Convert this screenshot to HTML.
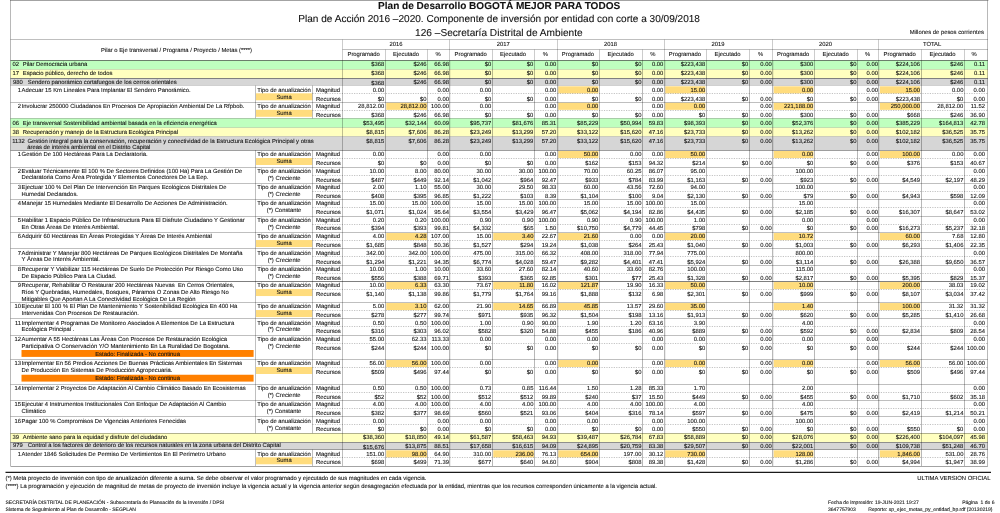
<!DOCTYPE html>
<html lang="es"><head><meta charset="utf-8"><title>Plan de Desarrollo BOGOTÁ MEJOR PARA TODOS</title>
<style>
html,body{margin:0;padding:0;background:#fff;}
body{width:1000px;height:513px;overflow:hidden;}
svg{display:block;will-change:transform;}
svg text{font-family:"Liberation Sans", sans-serif;font-size:5.87px;fill:#111;white-space:pre;text-rendering:geometricPrecision;stroke:#111;stroke-width:0.09px;}
</style></head><body>
<svg width="1000" height="513" viewBox="0 0 1000 513">
<rect x="0" y="0" width="1000" height="513" fill="#fff"/>
<rect x="10.50" y="60.40" width="977.40" height="9.10" fill="#BFFFBF" />
<rect x="10.50" y="69.50" width="977.40" height="8.50" fill="#FFFFBF" />
<rect x="10.50" y="79.00" width="977.40" height="6.30" fill="#D6D6D6" />
<rect x="256.00" y="93.30" width="56.20" height="7.00" fill="#FFDC7D" />
<rect x="558.30" y="86.30" width="40.10" height="7.05" fill="#FFDC7D" />
<rect x="665.30" y="86.30" width="40.00" height="7.05" fill="#FFDC7D" />
<rect x="773.70" y="86.30" width="39.70" height="7.05" fill="#FFDC7D" />
<rect x="879.95" y="86.30" width="40.25" height="7.05" fill="#FFDC7D" />
<rect x="256.00" y="109.80" width="56.20" height="7.00" fill="#FFDC7D" />
<rect x="386.25" y="102.80" width="40.75" height="7.05" fill="#FFDC7D" />
<rect x="558.30" y="102.80" width="40.10" height="7.05" fill="#FFDC7D" />
<rect x="665.30" y="102.80" width="40.00" height="7.05" fill="#FFDC7D" />
<rect x="773.70" y="102.80" width="39.70" height="7.05" fill="#FFDC7D" />
<rect x="879.95" y="102.80" width="40.25" height="7.05" fill="#FFDC7D" />
<rect x="10.50" y="118.30" width="977.40" height="9.40" fill="#BFFFBF" />
<rect x="10.50" y="127.70" width="977.40" height="8.80" fill="#FFFFBF" />
<rect x="10.50" y="136.50" width="977.40" height="13.70" fill="#D6D6D6" />
<rect x="256.00" y="158.00" width="56.20" height="7.00" fill="#FFDC7D" />
<rect x="558.30" y="151.00" width="40.10" height="7.05" fill="#FFDC7D" />
<rect x="665.30" y="151.00" width="40.00" height="7.05" fill="#FFDC7D" />
<rect x="773.70" y="151.00" width="39.70" height="7.05" fill="#FFDC7D" />
<rect x="879.95" y="151.00" width="40.25" height="7.05" fill="#FFDC7D" />
<rect x="256.00" y="240.05" width="56.20" height="7.00" fill="#FFDC7D" />
<rect x="386.25" y="233.05" width="40.75" height="7.05" fill="#FFDC7D" />
<rect x="493.25" y="233.05" width="40.65" height="7.05" fill="#FFDC7D" />
<rect x="558.30" y="233.05" width="40.10" height="7.05" fill="#FFDC7D" />
<rect x="665.30" y="233.05" width="40.00" height="7.05" fill="#FFDC7D" />
<rect x="773.70" y="233.05" width="39.70" height="7.05" fill="#FFDC7D" />
<rect x="879.95" y="233.05" width="40.25" height="7.05" fill="#FFDC7D" />
<rect x="256.00" y="289.05" width="56.20" height="7.00" fill="#FFDC7D" />
<rect x="386.25" y="282.05" width="40.75" height="7.05" fill="#FFDC7D" />
<rect x="493.25" y="282.05" width="40.65" height="7.05" fill="#FFDC7D" />
<rect x="558.30" y="282.05" width="40.10" height="7.05" fill="#FFDC7D" />
<rect x="665.30" y="282.05" width="40.00" height="7.05" fill="#FFDC7D" />
<rect x="773.70" y="282.05" width="39.70" height="7.05" fill="#FFDC7D" />
<rect x="879.95" y="282.05" width="40.25" height="7.05" fill="#FFDC7D" />
<rect x="256.00" y="310.05" width="56.20" height="7.00" fill="#FFDC7D" />
<rect x="386.25" y="303.05" width="40.75" height="7.05" fill="#FFDC7D" />
<rect x="493.25" y="303.05" width="40.65" height="7.05" fill="#FFDC7D" />
<rect x="558.30" y="303.05" width="40.10" height="7.05" fill="#FFDC7D" />
<rect x="665.30" y="303.05" width="40.00" height="7.05" fill="#FFDC7D" />
<rect x="773.70" y="303.05" width="39.70" height="7.05" fill="#FFDC7D" />
<rect x="879.95" y="303.05" width="40.25" height="7.05" fill="#FFDC7D" />
<rect x="21.50" y="350.00" width="232.10" height="6.90" fill="#FF8000" />
<rect x="256.00" y="367.00" width="56.20" height="7.00" fill="#FFDC7D" />
<rect x="386.25" y="360.00" width="40.75" height="7.05" fill="#FFDC7D" />
<rect x="558.30" y="360.00" width="40.10" height="7.05" fill="#FFDC7D" />
<rect x="665.30" y="360.00" width="40.00" height="7.05" fill="#FFDC7D" />
<rect x="773.70" y="360.00" width="39.70" height="7.05" fill="#FFDC7D" />
<rect x="879.95" y="360.00" width="40.25" height="7.05" fill="#FFDC7D" />
<rect x="21.50" y="374.75" width="232.10" height="6.85" fill="#FF8000" />
<rect x="10.50" y="433.20" width="977.40" height="8.90" fill="#FFFFBF" />
<rect x="10.50" y="442.60" width="977.40" height="6.70" fill="#D6D6D6" />
<rect x="256.00" y="457.30" width="56.20" height="7.00" fill="#FFDC7D" />
<rect x="386.25" y="450.30" width="40.75" height="7.05" fill="#FFDC7D" />
<rect x="493.25" y="450.30" width="40.65" height="7.05" fill="#FFDC7D" />
<rect x="558.30" y="450.30" width="40.10" height="7.05" fill="#FFDC7D" />
<rect x="665.30" y="450.30" width="40.00" height="7.05" fill="#FFDC7D" />
<rect x="773.70" y="450.30" width="39.70" height="7.05" fill="#FFDC7D" />
<rect x="879.95" y="450.30" width="40.25" height="7.05" fill="#FFDC7D" />
<line x1="10.00" y1="0.50" x2="988.40" y2="0.50" stroke="rgba(0,0,0,0.36)" stroke-width="1.0"/>
<line x1="10.50" y1="0.30" x2="10.50" y2="466.00" stroke="rgba(0,0,0,0.28)" stroke-width="1.0"/>
<line x1="987.50" y1="0.30" x2="987.50" y2="466.00" stroke="rgba(0,0,0,0.28)" stroke-width="1.0"/>
<line x1="10.50" y1="466.50" x2="987.90" y2="466.50" stroke="rgba(0,0,0,0.36)" stroke-width="1.0"/>
<line x1="10.50" y1="39.50" x2="987.90" y2="39.50" stroke="rgba(0,0,0,0.25)" stroke-width="1.0"/>
<line x1="342.50" y1="49.50" x2="987.90" y2="49.50" stroke="rgba(0,0,0,0.25)" stroke-width="1.0"/>
<line x1="342.50" y1="39.50" x2="342.50" y2="60.40" stroke="rgba(0,0,0,0.2)" stroke-width="1.0"/>
<line x1="342.50" y1="60.40" x2="342.50" y2="466.00" stroke="rgba(0,0,0,0.25)" stroke-width="1.0"/>
<line x1="449.50" y1="39.50" x2="449.50" y2="60.40" stroke="rgba(0,0,0,0.2)" stroke-width="1.0"/>
<line x1="449.50" y1="60.40" x2="449.50" y2="466.00" stroke="rgba(0,0,0,0.28)" stroke-width="1.0"/>
<line x1="450.50" y1="60.40" x2="450.50" y2="466.00" stroke="rgba(0,0,0,0.07)" stroke-width="1.0"/>
<line x1="557.50" y1="39.50" x2="557.50" y2="60.40" stroke="rgba(0,0,0,0.2)" stroke-width="1.0"/>
<line x1="557.50" y1="60.40" x2="557.50" y2="466.00" stroke="rgba(0,0,0,0.28)" stroke-width="1.0"/>
<line x1="558.50" y1="60.40" x2="558.50" y2="466.00" stroke="rgba(0,0,0,0.07)" stroke-width="1.0"/>
<line x1="664.50" y1="39.50" x2="664.50" y2="60.40" stroke="rgba(0,0,0,0.2)" stroke-width="1.0"/>
<line x1="664.50" y1="60.40" x2="664.50" y2="466.00" stroke="rgba(0,0,0,0.28)" stroke-width="1.0"/>
<line x1="665.50" y1="60.40" x2="665.50" y2="466.00" stroke="rgba(0,0,0,0.07)" stroke-width="1.0"/>
<line x1="772.50" y1="39.50" x2="772.50" y2="60.40" stroke="rgba(0,0,0,0.2)" stroke-width="1.0"/>
<line x1="772.50" y1="60.40" x2="772.50" y2="466.00" stroke="rgba(0,0,0,0.28)" stroke-width="1.0"/>
<line x1="773.50" y1="60.40" x2="773.50" y2="466.00" stroke="rgba(0,0,0,0.07)" stroke-width="1.0"/>
<line x1="878.50" y1="39.50" x2="878.50" y2="60.40" stroke="rgba(0,0,0,0.2)" stroke-width="1.0"/>
<line x1="878.50" y1="60.40" x2="878.50" y2="466.00" stroke="rgba(0,0,0,0.28)" stroke-width="1.0"/>
<line x1="879.50" y1="60.40" x2="879.50" y2="466.00" stroke="rgba(0,0,0,0.07)" stroke-width="1.0"/>
<line x1="385.50" y1="49.50" x2="385.50" y2="60.40" stroke="rgba(0,0,0,0.2)" stroke-width="1.0"/>
<line x1="385.50" y1="60.40" x2="385.50" y2="466.00" stroke="rgba(0,0,0,0.28)" stroke-width="1.0"/>
<line x1="427.50" y1="49.50" x2="427.50" y2="60.40" stroke="rgba(0,0,0,0.2)" stroke-width="1.0"/>
<line x1="427.50" y1="60.40" x2="427.50" y2="466.00" stroke="rgba(0,0,0,0.28)" stroke-width="1.0"/>
<line x1="492.50" y1="49.50" x2="492.50" y2="60.40" stroke="rgba(0,0,0,0.2)" stroke-width="1.0"/>
<line x1="492.50" y1="60.40" x2="492.50" y2="466.00" stroke="rgba(0,0,0,0.28)" stroke-width="1.0"/>
<line x1="534.50" y1="49.50" x2="534.50" y2="60.40" stroke="rgba(0,0,0,0.2)" stroke-width="1.0"/>
<line x1="534.50" y1="60.40" x2="534.50" y2="466.00" stroke="rgba(0,0,0,0.28)" stroke-width="1.0"/>
<line x1="599.50" y1="49.50" x2="599.50" y2="60.40" stroke="rgba(0,0,0,0.2)" stroke-width="1.0"/>
<line x1="599.50" y1="60.40" x2="599.50" y2="466.00" stroke="rgba(0,0,0,0.28)" stroke-width="1.0"/>
<line x1="642.50" y1="49.50" x2="642.50" y2="60.40" stroke="rgba(0,0,0,0.2)" stroke-width="1.0"/>
<line x1="642.50" y1="60.40" x2="642.50" y2="466.00" stroke="rgba(0,0,0,0.28)" stroke-width="1.0"/>
<line x1="706.50" y1="49.50" x2="706.50" y2="60.40" stroke="rgba(0,0,0,0.2)" stroke-width="1.0"/>
<line x1="706.50" y1="60.40" x2="706.50" y2="466.00" stroke="rgba(0,0,0,0.28)" stroke-width="1.0"/>
<line x1="749.50" y1="49.50" x2="749.50" y2="60.40" stroke="rgba(0,0,0,0.2)" stroke-width="1.0"/>
<line x1="749.50" y1="60.40" x2="749.50" y2="466.00" stroke="rgba(0,0,0,0.28)" stroke-width="1.0"/>
<line x1="814.50" y1="49.50" x2="814.50" y2="60.40" stroke="rgba(0,0,0,0.2)" stroke-width="1.0"/>
<line x1="814.50" y1="60.40" x2="814.50" y2="466.00" stroke="rgba(0,0,0,0.28)" stroke-width="1.0"/>
<line x1="857.50" y1="49.50" x2="857.50" y2="60.40" stroke="rgba(0,0,0,0.2)" stroke-width="1.0"/>
<line x1="857.50" y1="60.40" x2="857.50" y2="466.00" stroke="rgba(0,0,0,0.28)" stroke-width="1.0"/>
<line x1="921.50" y1="49.50" x2="921.50" y2="60.40" stroke="rgba(0,0,0,0.2)" stroke-width="1.0"/>
<line x1="921.50" y1="60.40" x2="921.50" y2="466.00" stroke="rgba(0,0,0,0.28)" stroke-width="1.0"/>
<line x1="964.50" y1="49.50" x2="964.50" y2="60.40" stroke="rgba(0,0,0,0.2)" stroke-width="1.0"/>
<line x1="964.50" y1="60.40" x2="964.50" y2="466.00" stroke="rgba(0,0,0,0.28)" stroke-width="1.0"/>
<line x1="10.50" y1="69.50" x2="987.90" y2="69.50" stroke="rgba(0,0,0,0.13)" stroke-width="1.0"/>
<line x1="10.50" y1="127.50" x2="987.90" y2="127.50" stroke="rgba(0,0,0,0.13)" stroke-width="1.0"/>
<line x1="10.50" y1="136.50" x2="987.90" y2="136.50" stroke="rgba(0,0,0,0.13)" stroke-width="1.0"/>
<line x1="10.50" y1="433.50" x2="987.90" y2="433.50" stroke="rgba(0,0,0,0.13)" stroke-width="1.0"/>
<line x1="10.50" y1="60.50" x2="987.90" y2="60.50" stroke="rgba(0,0,0,0.5)" stroke-width="1.0"/>
<line x1="10.50" y1="78.50" x2="987.90" y2="78.50" stroke="rgba(0,0,0,0.5)" stroke-width="1.0"/>
<line x1="10.50" y1="85.50" x2="987.90" y2="85.50" stroke="rgba(0,0,0,0.14)" stroke-width="1.0"/>
<line x1="10.50" y1="102.50" x2="987.90" y2="102.50" stroke="rgba(0,0,0,0.25)" stroke-width="1.0"/>
<line x1="312.40" y1="93.50" x2="987.90" y2="93.50" stroke="rgba(0,0,0,0.24)" stroke-width="1.0" stroke-dasharray="1.2 1.25"/>
<line x1="255.50" y1="85.50" x2="255.50" y2="102.00" stroke="rgba(0,0,0,0.25)" stroke-width="1.0"/>
<line x1="312.50" y1="85.50" x2="312.50" y2="102.00" stroke="rgba(0,0,0,0.25)" stroke-width="1.0"/>
<line x1="10.50" y1="118.50" x2="987.90" y2="118.50" stroke="rgba(0,0,0,0.2)" stroke-width="1.0"/>
<line x1="312.40" y1="110.50" x2="987.90" y2="110.50" stroke="rgba(0,0,0,0.24)" stroke-width="1.0" stroke-dasharray="1.2 1.25"/>
<line x1="255.50" y1="102.00" x2="255.50" y2="118.30" stroke="rgba(0,0,0,0.25)" stroke-width="1.0"/>
<line x1="312.50" y1="102.00" x2="312.50" y2="118.30" stroke="rgba(0,0,0,0.25)" stroke-width="1.0"/>
<line x1="10.50" y1="150.50" x2="987.90" y2="150.50" stroke="rgba(0,0,0,0.36)" stroke-width="1.0"/>
<line x1="10.50" y1="167.50" x2="987.90" y2="167.50" stroke="rgba(0,0,0,0.25)" stroke-width="1.0"/>
<line x1="312.40" y1="158.50" x2="987.90" y2="158.50" stroke="rgba(0,0,0,0.24)" stroke-width="1.0" stroke-dasharray="1.2 1.25"/>
<line x1="255.50" y1="150.20" x2="255.50" y2="167.00" stroke="rgba(0,0,0,0.25)" stroke-width="1.0"/>
<line x1="312.50" y1="150.20" x2="312.50" y2="167.00" stroke="rgba(0,0,0,0.25)" stroke-width="1.0"/>
<line x1="10.50" y1="183.50" x2="987.90" y2="183.50" stroke="rgba(0,0,0,0.25)" stroke-width="1.0"/>
<line x1="312.40" y1="175.50" x2="987.90" y2="175.50" stroke="rgba(0,0,0,0.24)" stroke-width="1.0" stroke-dasharray="1.2 1.25"/>
<line x1="255.50" y1="167.00" x2="255.50" y2="183.25" stroke="rgba(0,0,0,0.25)" stroke-width="1.0"/>
<line x1="312.50" y1="167.00" x2="312.50" y2="183.25" stroke="rgba(0,0,0,0.25)" stroke-width="1.0"/>
<line x1="10.50" y1="199.50" x2="987.90" y2="199.50" stroke="rgba(0,0,0,0.25)" stroke-width="1.0"/>
<line x1="312.40" y1="191.50" x2="987.90" y2="191.50" stroke="rgba(0,0,0,0.24)" stroke-width="1.0" stroke-dasharray="1.2 1.25"/>
<line x1="255.50" y1="183.25" x2="255.50" y2="199.50" stroke="rgba(0,0,0,0.25)" stroke-width="1.0"/>
<line x1="312.50" y1="183.25" x2="312.50" y2="199.50" stroke="rgba(0,0,0,0.25)" stroke-width="1.0"/>
<line x1="10.50" y1="216.50" x2="987.90" y2="216.50" stroke="rgba(0,0,0,0.25)" stroke-width="1.0"/>
<line x1="312.40" y1="207.50" x2="987.90" y2="207.50" stroke="rgba(0,0,0,0.24)" stroke-width="1.0" stroke-dasharray="1.2 1.25"/>
<line x1="255.50" y1="199.50" x2="255.50" y2="216.00" stroke="rgba(0,0,0,0.25)" stroke-width="1.0"/>
<line x1="312.50" y1="199.50" x2="312.50" y2="216.00" stroke="rgba(0,0,0,0.25)" stroke-width="1.0"/>
<line x1="10.50" y1="232.50" x2="987.90" y2="232.50" stroke="rgba(0,0,0,0.25)" stroke-width="1.0"/>
<line x1="312.40" y1="224.50" x2="987.90" y2="224.50" stroke="rgba(0,0,0,0.24)" stroke-width="1.0" stroke-dasharray="1.2 1.25"/>
<line x1="255.50" y1="216.00" x2="255.50" y2="232.25" stroke="rgba(0,0,0,0.25)" stroke-width="1.0"/>
<line x1="312.50" y1="216.00" x2="312.50" y2="232.25" stroke="rgba(0,0,0,0.25)" stroke-width="1.0"/>
<line x1="10.50" y1="248.50" x2="987.90" y2="248.50" stroke="rgba(0,0,0,0.25)" stroke-width="1.0"/>
<line x1="312.40" y1="240.50" x2="987.90" y2="240.50" stroke="rgba(0,0,0,0.24)" stroke-width="1.0" stroke-dasharray="1.2 1.25"/>
<line x1="255.50" y1="232.25" x2="255.50" y2="248.50" stroke="rgba(0,0,0,0.25)" stroke-width="1.0"/>
<line x1="312.50" y1="232.25" x2="312.50" y2="248.50" stroke="rgba(0,0,0,0.25)" stroke-width="1.0"/>
<line x1="10.50" y1="265.50" x2="987.90" y2="265.50" stroke="rgba(0,0,0,0.25)" stroke-width="1.0"/>
<line x1="312.40" y1="256.50" x2="987.90" y2="256.50" stroke="rgba(0,0,0,0.24)" stroke-width="1.0" stroke-dasharray="1.2 1.25"/>
<line x1="255.50" y1="248.50" x2="255.50" y2="265.00" stroke="rgba(0,0,0,0.25)" stroke-width="1.0"/>
<line x1="312.50" y1="248.50" x2="312.50" y2="265.00" stroke="rgba(0,0,0,0.25)" stroke-width="1.0"/>
<line x1="10.50" y1="281.50" x2="987.90" y2="281.50" stroke="rgba(0,0,0,0.5)" stroke-width="1.0"/>
<line x1="312.40" y1="273.50" x2="987.90" y2="273.50" stroke="rgba(0,0,0,0.24)" stroke-width="1.0" stroke-dasharray="1.2 1.25"/>
<line x1="255.50" y1="265.00" x2="255.50" y2="281.25" stroke="rgba(0,0,0,0.25)" stroke-width="1.0"/>
<line x1="312.50" y1="265.00" x2="312.50" y2="281.25" stroke="rgba(0,0,0,0.25)" stroke-width="1.0"/>
<line x1="10.50" y1="302.50" x2="987.90" y2="302.50" stroke="rgba(0,0,0,0.25)" stroke-width="1.0"/>
<line x1="312.40" y1="289.50" x2="987.90" y2="289.50" stroke="rgba(0,0,0,0.24)" stroke-width="1.0" stroke-dasharray="1.2 1.25"/>
<line x1="255.50" y1="281.25" x2="255.50" y2="302.25" stroke="rgba(0,0,0,0.25)" stroke-width="1.0"/>
<line x1="312.50" y1="281.25" x2="312.50" y2="302.25" stroke="rgba(0,0,0,0.25)" stroke-width="1.0"/>
<line x1="10.50" y1="318.50" x2="987.90" y2="318.50" stroke="rgba(0,0,0,0.25)" stroke-width="1.0"/>
<line x1="312.40" y1="310.50" x2="987.90" y2="310.50" stroke="rgba(0,0,0,0.24)" stroke-width="1.0" stroke-dasharray="1.2 1.25"/>
<line x1="255.50" y1="302.25" x2="255.50" y2="318.50" stroke="rgba(0,0,0,0.25)" stroke-width="1.0"/>
<line x1="312.50" y1="302.25" x2="312.50" y2="318.50" stroke="rgba(0,0,0,0.25)" stroke-width="1.0"/>
<line x1="10.50" y1="335.50" x2="987.90" y2="335.50" stroke="rgba(0,0,0,0.25)" stroke-width="1.0"/>
<line x1="312.40" y1="326.50" x2="987.90" y2="326.50" stroke="rgba(0,0,0,0.24)" stroke-width="1.0" stroke-dasharray="1.2 1.25"/>
<line x1="255.50" y1="318.50" x2="255.50" y2="335.15" stroke="rgba(0,0,0,0.25)" stroke-width="1.0"/>
<line x1="312.50" y1="318.50" x2="312.50" y2="335.15" stroke="rgba(0,0,0,0.25)" stroke-width="1.0"/>
<line x1="10.50" y1="359.50" x2="987.90" y2="359.50" stroke="rgba(0,0,0,0.25)" stroke-width="1.0"/>
<line x1="312.40" y1="343.50" x2="987.90" y2="343.50" stroke="rgba(0,0,0,0.24)" stroke-width="1.0" stroke-dasharray="1.2 1.25"/>
<line x1="255.50" y1="335.15" x2="255.50" y2="359.20" stroke="rgba(0,0,0,0.25)" stroke-width="1.0"/>
<line x1="312.50" y1="335.15" x2="312.50" y2="359.20" stroke="rgba(0,0,0,0.25)" stroke-width="1.0"/>
<line x1="10.50" y1="384.50" x2="987.90" y2="384.50" stroke="rgba(0,0,0,0.25)" stroke-width="1.0"/>
<line x1="312.40" y1="367.50" x2="987.90" y2="367.50" stroke="rgba(0,0,0,0.24)" stroke-width="1.0" stroke-dasharray="1.2 1.25"/>
<line x1="255.50" y1="359.20" x2="255.50" y2="384.20" stroke="rgba(0,0,0,0.25)" stroke-width="1.0"/>
<line x1="312.50" y1="359.20" x2="312.50" y2="384.20" stroke="rgba(0,0,0,0.25)" stroke-width="1.0"/>
<line x1="10.50" y1="400.50" x2="987.90" y2="400.50" stroke="rgba(0,0,0,0.25)" stroke-width="1.0"/>
<line x1="312.40" y1="392.50" x2="987.90" y2="392.50" stroke="rgba(0,0,0,0.24)" stroke-width="1.0" stroke-dasharray="1.2 1.25"/>
<line x1="255.50" y1="384.20" x2="255.50" y2="400.40" stroke="rgba(0,0,0,0.25)" stroke-width="1.0"/>
<line x1="312.50" y1="384.20" x2="312.50" y2="400.40" stroke="rgba(0,0,0,0.25)" stroke-width="1.0"/>
<line x1="10.50" y1="416.50" x2="987.90" y2="416.50" stroke="rgba(0,0,0,0.25)" stroke-width="1.0"/>
<line x1="312.40" y1="408.50" x2="987.90" y2="408.50" stroke="rgba(0,0,0,0.24)" stroke-width="1.0" stroke-dasharray="1.2 1.25"/>
<line x1="255.50" y1="400.40" x2="255.50" y2="416.60" stroke="rgba(0,0,0,0.25)" stroke-width="1.0"/>
<line x1="312.50" y1="400.40" x2="312.50" y2="416.60" stroke="rgba(0,0,0,0.25)" stroke-width="1.0"/>
<line x1="10.50" y1="433.50" x2="987.90" y2="433.50" stroke="rgba(0,0,0,0.2)" stroke-width="1.0"/>
<line x1="312.40" y1="424.50" x2="987.90" y2="424.50" stroke="rgba(0,0,0,0.24)" stroke-width="1.0" stroke-dasharray="1.2 1.25"/>
<line x1="255.50" y1="416.60" x2="255.50" y2="433.20" stroke="rgba(0,0,0,0.25)" stroke-width="1.0"/>
<line x1="312.50" y1="416.60" x2="312.50" y2="433.20" stroke="rgba(0,0,0,0.25)" stroke-width="1.0"/>
<line x1="10.50" y1="442.50" x2="987.90" y2="442.50" stroke="rgba(0,0,0,0.4)" stroke-width="1.0"/>
<line x1="10.50" y1="449.50" x2="987.90" y2="449.50" stroke="rgba(0,0,0,0.36)" stroke-width="1.0"/>
<line x1="312.40" y1="457.50" x2="987.90" y2="457.50" stroke="rgba(0,0,0,0.24)" stroke-width="1.0" stroke-dasharray="1.2 1.25"/>
<line x1="255.50" y1="449.50" x2="255.50" y2="466.00" stroke="rgba(0,0,0,0.25)" stroke-width="1.0"/>
<line x1="312.50" y1="449.50" x2="312.50" y2="466.00" stroke="rgba(0,0,0,0.25)" stroke-width="1.0"/>
<text x="499.15" y="9.20" text-anchor="middle" style="font-size:10.05px;font-weight:bold">Plan de Desarrollo BOGOTÁ MEJOR PARA TODOS</text>
<text x="499.15" y="22.40" text-anchor="middle" style="font-size:10.07px">Plan de Acción 2016 –2020. Componente de inversión por entidad con corte a 30/09/2018</text>
<text x="498.85" y="36.00" text-anchor="middle" style="font-size:10.12px">126 –Secretaría Distrital de Ambiente</text>
<text x="983.90" y="34.20" text-anchor="end">Millones de pesos corrientes</text>
<text x="176.50" y="51.90" text-anchor="middle">Pilar o Eje transversal / Programa / Proyecto / Metas (****)</text>
<text x="395.93" y="45.80" text-anchor="middle">2016</text>
<text x="363.60" y="56.30" text-anchor="middle">Programado</text>
<text x="406.10" y="56.30" text-anchor="middle">Ejecutado</text>
<text x="438.23" y="56.30" text-anchor="middle">%</text>
<text x="503.23" y="45.80" text-anchor="middle">2017</text>
<text x="470.73" y="56.30" text-anchor="middle">Programado</text>
<text x="513.05" y="56.30" text-anchor="middle">Ejecutado</text>
<text x="545.35" y="56.30" text-anchor="middle">%</text>
<text x="610.40" y="45.80" text-anchor="middle">2018</text>
<text x="577.95" y="56.30" text-anchor="middle">Programado</text>
<text x="620.65" y="56.30" text-anchor="middle">Ejecutado</text>
<text x="652.90" y="56.30" text-anchor="middle">%</text>
<text x="718.10" y="45.80" text-anchor="middle">2019</text>
<text x="684.90" y="56.30" text-anchor="middle">Programado</text>
<text x="727.55" y="56.30" text-anchor="middle">Ejecutado</text>
<text x="760.55" y="56.30" text-anchor="middle">%</text>
<text x="825.42" y="45.80" text-anchor="middle">2020</text>
<text x="793.15" y="56.30" text-anchor="middle">Programado</text>
<text x="835.65" y="56.30" text-anchor="middle">Ejecutado</text>
<text x="867.73" y="56.30" text-anchor="middle">%</text>
<text x="932.12" y="45.80" text-anchor="middle">TOTAL</text>
<text x="899.68" y="56.30" text-anchor="middle">Programado</text>
<text x="942.50" y="56.30" text-anchor="middle">Ejecutado</text>
<text x="974.00" y="56.30" text-anchor="middle">%</text>
<text x="12.50" y="66.00">02</text>
<text x="22.75" y="66.00">Pilar Democracia urbana</text>
<text x="384.20" y="66.00" text-anchor="end">$368</text>
<text x="426.50" y="66.00" text-anchor="end">$246</text>
<text x="448.95" y="66.00" text-anchor="end">66.98</text>
<text x="491.20" y="66.00" text-anchor="end">$0</text>
<text x="533.40" y="66.00" text-anchor="end">$0</text>
<text x="556.30" y="66.00" text-anchor="end">0.00</text>
<text x="598.30" y="66.00" text-anchor="end">$0</text>
<text x="641.50" y="66.00" text-anchor="end">$0</text>
<text x="663.30" y="66.00" text-anchor="end">0.00</text>
<text x="705.20" y="66.00" text-anchor="end">$223,438</text>
<text x="748.40" y="66.00" text-anchor="end">$0</text>
<text x="771.70" y="66.00" text-anchor="end">0.00</text>
<text x="813.30" y="66.00" text-anchor="end">$300</text>
<text x="856.50" y="66.00" text-anchor="end">$0</text>
<text x="877.95" y="66.00" text-anchor="end">0.00</text>
<text x="920.10" y="66.00" text-anchor="end">$224,106</text>
<text x="963.40" y="66.00" text-anchor="end">$246</text>
<text x="985.00" y="66.00" text-anchor="end">0.11</text>
<text x="12.50" y="75.00">17</text>
<text x="22.75" y="75.00">Espacio público, derecho de todos</text>
<text x="384.20" y="75.00" text-anchor="end">$368</text>
<text x="426.50" y="75.00" text-anchor="end">$246</text>
<text x="448.95" y="75.00" text-anchor="end">66.98</text>
<text x="491.20" y="75.00" text-anchor="end">$0</text>
<text x="533.40" y="75.00" text-anchor="end">$0</text>
<text x="556.30" y="75.00" text-anchor="end">0.00</text>
<text x="598.30" y="75.00" text-anchor="end">$0</text>
<text x="641.50" y="75.00" text-anchor="end">$0</text>
<text x="663.30" y="75.00" text-anchor="end">0.00</text>
<text x="705.20" y="75.00" text-anchor="end">$223,438</text>
<text x="748.40" y="75.00" text-anchor="end">$0</text>
<text x="771.70" y="75.00" text-anchor="end">0.00</text>
<text x="813.30" y="75.00" text-anchor="end">$300</text>
<text x="856.50" y="75.00" text-anchor="end">$0</text>
<text x="877.95" y="75.00" text-anchor="end">0.00</text>
<text x="920.10" y="75.00" text-anchor="end">$224,106</text>
<text x="963.40" y="75.00" text-anchor="end">$246</text>
<text x="985.00" y="75.00" text-anchor="end">0.11</text>
<text x="13.10" y="84.00">980</text>
<text x="27.75" y="84.00">Sendero panorámico cortafuegos de los cerros orientales</text>
<text x="384.20" y="85.00" text-anchor="end">$368</text>
<text x="426.50" y="84.00" text-anchor="end">$246</text>
<text x="448.95" y="84.00" text-anchor="end">66.98</text>
<text x="491.20" y="84.00" text-anchor="end">$0</text>
<text x="533.40" y="84.00" text-anchor="end">$0</text>
<text x="556.30" y="84.00" text-anchor="end">0.00</text>
<text x="598.30" y="84.00" text-anchor="end">$0</text>
<text x="641.50" y="84.00" text-anchor="end">$0</text>
<text x="663.30" y="84.00" text-anchor="end">0.00</text>
<text x="705.20" y="84.00" text-anchor="end">$223,438</text>
<text x="748.40" y="84.00" text-anchor="end">$0</text>
<text x="771.70" y="84.00" text-anchor="end">0.00</text>
<text x="813.30" y="84.00" text-anchor="end">$300</text>
<text x="856.50" y="84.00" text-anchor="end">$0</text>
<text x="877.95" y="84.00" text-anchor="end">0.00</text>
<text x="920.10" y="84.00" text-anchor="end">$224,106</text>
<text x="963.40" y="84.00" text-anchor="end">$246</text>
<text x="985.00" y="84.00" text-anchor="end">0.11</text>
<text x="21.00" y="92.00" text-anchor="end">1</text>
<text x="21.60" y="92.00">Adecuar 15 Km Lineales Para Implantar El Sendero Panorámico.</text>
<text x="284.10" y="92.00" text-anchor="middle">Tipo de anualización</text>
<text x="284.10" y="99.00" text-anchor="middle">Suma</text>
<text x="316.00" y="92.00">Magnitud</text>
<text x="316.00" y="101.00">Recursos</text>
<text x="384.20" y="92.00" text-anchor="end">0.00</text>
<text x="448.95" y="92.00" text-anchor="end">0.00</text>
<text x="491.20" y="92.00" text-anchor="end">0.00</text>
<text x="556.30" y="92.00" text-anchor="end">0.00</text>
<text x="598.30" y="92.00" text-anchor="end">0.00</text>
<text x="663.30" y="92.00" text-anchor="end">0.00</text>
<text x="705.20" y="92.00" text-anchor="end">15.00</text>
<text x="813.30" y="92.00" text-anchor="end">0.00</text>
<text x="877.95" y="92.00" text-anchor="end">0.00</text>
<text x="920.10" y="92.00" text-anchor="end">15.00</text>
<text x="963.40" y="92.00" text-anchor="end">0.00</text>
<text x="985.00" y="92.00" text-anchor="end">0.00</text>
<text x="384.20" y="101.00" text-anchor="end">$0</text>
<text x="426.50" y="101.00" text-anchor="end">$0</text>
<text x="448.95" y="101.00" text-anchor="end">0.00</text>
<text x="491.20" y="101.00" text-anchor="end">$0</text>
<text x="533.40" y="101.00" text-anchor="end">$0</text>
<text x="556.30" y="101.00" text-anchor="end">0.00</text>
<text x="598.30" y="101.00" text-anchor="end">$0</text>
<text x="641.50" y="101.00" text-anchor="end">$0</text>
<text x="663.30" y="101.00" text-anchor="end">0.00</text>
<text x="705.20" y="101.00" text-anchor="end">$223,438</text>
<text x="748.40" y="101.00" text-anchor="end">$0</text>
<text x="771.70" y="101.00" text-anchor="end">0.00</text>
<text x="813.30" y="101.00" text-anchor="end">$0</text>
<text x="856.50" y="101.00" text-anchor="end">$0</text>
<text x="877.95" y="101.00" text-anchor="end">0.00</text>
<text x="920.10" y="101.00" text-anchor="end">$223,438</text>
<text x="963.40" y="101.00" text-anchor="end">$0</text>
<text x="985.00" y="101.00" text-anchor="end">0.00</text>
<text x="21.00" y="108.00" text-anchor="end">2</text>
<text x="21.60" y="108.00">Involucrar 250000 Ciudadanos En Procesos De Apropiación Ambiental De La Rfpbob.</text>
<text x="284.10" y="108.00" text-anchor="middle">Tipo de anualización</text>
<text x="284.10" y="115.00" text-anchor="middle">Suma</text>
<text x="316.00" y="108.00">Magnitud</text>
<text x="316.00" y="117.00">Recursos</text>
<text x="384.20" y="108.00" text-anchor="end">28,812.00</text>
<text x="426.50" y="108.00" text-anchor="end">28,812.00</text>
<text x="448.95" y="108.00" text-anchor="end">100.00</text>
<text x="491.20" y="108.00" text-anchor="end">0.00</text>
<text x="556.30" y="108.00" text-anchor="end">0.00</text>
<text x="598.30" y="108.00" text-anchor="end">0.00</text>
<text x="663.30" y="108.00" text-anchor="end">0.00</text>
<text x="705.20" y="108.00" text-anchor="end">0.00</text>
<text x="771.70" y="108.00" text-anchor="end">0.00</text>
<text x="813.30" y="108.00" text-anchor="end">221,188.00</text>
<text x="920.10" y="108.00" text-anchor="end">250,000.00</text>
<text x="963.40" y="108.00" text-anchor="end">28,812.00</text>
<text x="985.00" y="108.00" text-anchor="end">11.52</text>
<text x="384.20" y="117.00" text-anchor="end">$368</text>
<text x="426.50" y="117.00" text-anchor="end">$246</text>
<text x="448.95" y="117.00" text-anchor="end">66.98</text>
<text x="491.20" y="117.00" text-anchor="end">$0</text>
<text x="533.40" y="117.00" text-anchor="end">$0</text>
<text x="556.30" y="117.00" text-anchor="end">0.00</text>
<text x="598.30" y="117.00" text-anchor="end">$0</text>
<text x="641.50" y="117.00" text-anchor="end">$0</text>
<text x="663.30" y="117.00" text-anchor="end">0.00</text>
<text x="705.20" y="117.00" text-anchor="end">$0</text>
<text x="748.40" y="117.00" text-anchor="end">$0</text>
<text x="771.70" y="117.00" text-anchor="end">0.00</text>
<text x="813.30" y="117.00" text-anchor="end">$300</text>
<text x="856.50" y="117.00" text-anchor="end">$0</text>
<text x="877.95" y="117.00" text-anchor="end">0.00</text>
<text x="920.10" y="117.00" text-anchor="end">$668</text>
<text x="963.40" y="117.00" text-anchor="end">$246</text>
<text x="985.00" y="117.00" text-anchor="end">36.90</text>
<text x="12.50" y="125.00">06</text>
<text x="22.75" y="125.00">Eje transversal Sostenibilidad ambiental basada en la eficiencia energética</text>
<text x="384.20" y="125.00" text-anchor="end">$53,495</text>
<text x="426.50" y="125.00" text-anchor="end">$32,144</text>
<text x="448.95" y="125.00" text-anchor="end">60.09</text>
<text x="491.20" y="125.00" text-anchor="end">$95,737</text>
<text x="533.40" y="125.00" text-anchor="end">$81,676</text>
<text x="556.30" y="125.00" text-anchor="end">85.31</text>
<text x="598.30" y="125.00" text-anchor="end">$85,229</text>
<text x="641.50" y="125.00" text-anchor="end">$50,994</text>
<text x="663.30" y="125.00" text-anchor="end">59.83</text>
<text x="705.20" y="125.00" text-anchor="end">$98,393</text>
<text x="748.40" y="125.00" text-anchor="end">$0</text>
<text x="771.70" y="125.00" text-anchor="end">0.00</text>
<text x="813.30" y="125.00" text-anchor="end">$52,376</text>
<text x="856.50" y="125.00" text-anchor="end">$0</text>
<text x="877.95" y="125.00" text-anchor="end">0.00</text>
<text x="920.10" y="125.00" text-anchor="end">$385,229</text>
<text x="963.40" y="125.00" text-anchor="end">$164,813</text>
<text x="985.00" y="125.00" text-anchor="end">42.78</text>
<text x="12.50" y="134.00">38</text>
<text x="22.75" y="134.00">Recuperación y manejo de la Estructura Ecológica Principal</text>
<text x="384.20" y="134.00" text-anchor="end">$8,815</text>
<text x="426.50" y="134.00" text-anchor="end">$7,606</text>
<text x="448.95" y="134.00" text-anchor="end">86.28</text>
<text x="491.20" y="134.00" text-anchor="end">$23,249</text>
<text x="533.40" y="134.00" text-anchor="end">$13,299</text>
<text x="556.30" y="134.00" text-anchor="end">57.20</text>
<text x="598.30" y="134.00" text-anchor="end">$33,122</text>
<text x="641.50" y="134.00" text-anchor="end">$15,620</text>
<text x="663.30" y="134.00" text-anchor="end">47.16</text>
<text x="705.20" y="134.00" text-anchor="end">$23,733</text>
<text x="748.40" y="134.00" text-anchor="end">$0</text>
<text x="771.70" y="134.00" text-anchor="end">0.00</text>
<text x="813.30" y="134.00" text-anchor="end">$13,262</text>
<text x="856.50" y="134.00" text-anchor="end">$0</text>
<text x="877.95" y="134.00" text-anchor="end">0.00</text>
<text x="920.10" y="134.00" text-anchor="end">$102,182</text>
<text x="963.40" y="134.00" text-anchor="end">$36,525</text>
<text x="985.00" y="134.00" text-anchor="end">35.75</text>
<text x="12.25" y="143.00">1132</text>
<text x="27.50" y="143.00" textLength="286.2" lengthAdjust="spacingAndGlyphs">Gestión integral para la conservación, recuperación y conectividad de la Estructura Ecológica Principal y otras</text>
<text x="27.30" y="149.00">áreas de interés ambiental en el Distrito Capital</text>
<text x="384.20" y="143.00" text-anchor="end">$8,815</text>
<text x="426.50" y="143.00" text-anchor="end">$7,606</text>
<text x="448.95" y="143.00" text-anchor="end">86.28</text>
<text x="491.20" y="143.00" text-anchor="end">$23,249</text>
<text x="533.40" y="143.00" text-anchor="end">$13,299</text>
<text x="556.30" y="143.00" text-anchor="end">57.20</text>
<text x="598.30" y="143.00" text-anchor="end">$33,122</text>
<text x="641.50" y="143.00" text-anchor="end">$15,620</text>
<text x="663.30" y="143.00" text-anchor="end">47.16</text>
<text x="705.20" y="143.00" text-anchor="end">$23,733</text>
<text x="748.40" y="143.00" text-anchor="end">$0</text>
<text x="771.70" y="143.00" text-anchor="end">0.00</text>
<text x="813.30" y="143.00" text-anchor="end">$13,262</text>
<text x="856.50" y="143.00" text-anchor="end">$0</text>
<text x="877.95" y="143.00" text-anchor="end">0.00</text>
<text x="920.10" y="143.00" text-anchor="end">$102,182</text>
<text x="963.40" y="143.00" text-anchor="end">$36,525</text>
<text x="985.00" y="143.00" text-anchor="end">35.75</text>
<text x="21.00" y="156.00" text-anchor="end">1</text>
<text x="21.60" y="156.00">Gestión De 100 Hectáreas Para La Declaratoria.</text>
<text x="284.10" y="156.00" text-anchor="middle">Tipo de anualización</text>
<text x="284.10" y="163.00" text-anchor="middle">Suma</text>
<text x="316.00" y="156.00">Magnitud</text>
<text x="316.00" y="165.00">Recursos</text>
<text x="384.20" y="156.00" text-anchor="end">0.00</text>
<text x="448.95" y="156.00" text-anchor="end">0.00</text>
<text x="491.20" y="156.00" text-anchor="end">0.00</text>
<text x="556.30" y="156.00" text-anchor="end">0.00</text>
<text x="598.30" y="156.00" text-anchor="end">50.00</text>
<text x="641.50" y="156.00" text-anchor="end">0.00</text>
<text x="663.30" y="156.00" text-anchor="end">0.00</text>
<text x="705.20" y="156.00" text-anchor="end">50.00</text>
<text x="813.30" y="156.00" text-anchor="end">0.00</text>
<text x="877.95" y="156.00" text-anchor="end">0.00</text>
<text x="920.10" y="156.00" text-anchor="end">100.00</text>
<text x="963.40" y="156.00" text-anchor="end">0.00</text>
<text x="985.00" y="156.00" text-anchor="end">0.00</text>
<text x="384.20" y="165.00" text-anchor="end">$0</text>
<text x="426.50" y="165.00" text-anchor="end">$0</text>
<text x="448.95" y="165.00" text-anchor="end">0.00</text>
<text x="491.20" y="165.00" text-anchor="end">$0</text>
<text x="533.40" y="165.00" text-anchor="end">$0</text>
<text x="556.30" y="165.00" text-anchor="end">0.00</text>
<text x="598.30" y="165.00" text-anchor="end">$162</text>
<text x="641.50" y="165.00" text-anchor="end">$153</text>
<text x="663.30" y="165.00" text-anchor="end">94.32</text>
<text x="705.20" y="165.00" text-anchor="end">$214</text>
<text x="748.40" y="165.00" text-anchor="end">$0</text>
<text x="771.70" y="165.00" text-anchor="end">0.00</text>
<text x="813.30" y="165.00" text-anchor="end">$0</text>
<text x="856.50" y="165.00" text-anchor="end">$0</text>
<text x="877.95" y="165.00" text-anchor="end">0.00</text>
<text x="920.10" y="165.00" text-anchor="end">$376</text>
<text x="963.40" y="165.00" text-anchor="end">$153</text>
<text x="985.00" y="165.00" text-anchor="end">40.67</text>
<text x="21.00" y="173.00" text-anchor="end">2</text>
<text x="21.60" y="173.00">Evaluar Técnicamente El 100 % De Sectores Definidos (100 Ha) Para La Gestión De</text>
<text x="21.60" y="179.00">Declaratoria Como Área Protegida Y Elementos Conectores De La Eep.</text>
<text x="284.10" y="173.00" text-anchor="middle">Tipo de anualización</text>
<text x="284.10" y="180.00" text-anchor="middle">(*) Creciente</text>
<text x="316.00" y="173.00">Magnitud</text>
<text x="316.00" y="182.00">Recursos</text>
<text x="384.20" y="173.00" text-anchor="end">10.00</text>
<text x="426.50" y="173.00" text-anchor="end">8.00</text>
<text x="448.95" y="173.00" text-anchor="end">80.00</text>
<text x="491.20" y="173.00" text-anchor="end">30.00</text>
<text x="533.40" y="173.00" text-anchor="end">30.00</text>
<text x="556.30" y="173.00" text-anchor="end">100.00</text>
<text x="598.30" y="173.00" text-anchor="end">70.00</text>
<text x="641.50" y="173.00" text-anchor="end">60.25</text>
<text x="663.30" y="173.00" text-anchor="end">86.07</text>
<text x="705.20" y="173.00" text-anchor="end">95.00</text>
<text x="813.30" y="173.00" text-anchor="end">100.00</text>
<text x="985.00" y="173.00" text-anchor="end">0.00</text>
<text x="384.20" y="182.00" text-anchor="end">$487</text>
<text x="426.50" y="182.00" text-anchor="end">$449</text>
<text x="448.95" y="182.00" text-anchor="end">92.14</text>
<text x="491.20" y="182.00" text-anchor="end">$1,042</text>
<text x="533.40" y="182.00" text-anchor="end">$964</text>
<text x="556.30" y="182.00" text-anchor="end">92.47</text>
<text x="598.30" y="182.00" text-anchor="end">$933</text>
<text x="641.50" y="182.00" text-anchor="end">$784</text>
<text x="663.30" y="182.00" text-anchor="end">83.99</text>
<text x="705.20" y="182.00" text-anchor="end">$1,163</text>
<text x="748.40" y="182.00" text-anchor="end">$0</text>
<text x="771.70" y="182.00" text-anchor="end">0.00</text>
<text x="813.30" y="182.00" text-anchor="end">$923</text>
<text x="856.50" y="182.00" text-anchor="end">$0</text>
<text x="877.95" y="182.00" text-anchor="end">0.00</text>
<text x="920.10" y="182.00" text-anchor="end">$4,549</text>
<text x="963.40" y="182.00" text-anchor="end">$2,197</text>
<text x="985.00" y="182.00" text-anchor="end">48.29</text>
<text x="21.00" y="189.00" text-anchor="end">3</text>
<text x="21.60" y="189.00">Ejectuar 100 % Del Plan De Intervención En Parques Ecológicos Distritales De</text>
<text x="21.60" y="196.00">Humedal Declarados.</text>
<text x="284.10" y="189.00" text-anchor="middle">Tipo de anualización</text>
<text x="284.10" y="196.00" text-anchor="middle">(*) Creciente</text>
<text x="316.00" y="189.00">Magnitud</text>
<text x="316.00" y="198.00">Recursos</text>
<text x="384.20" y="189.00" text-anchor="end">2.00</text>
<text x="426.50" y="189.00" text-anchor="end">1.10</text>
<text x="448.95" y="189.00" text-anchor="end">55.00</text>
<text x="491.20" y="189.00" text-anchor="end">30.00</text>
<text x="533.40" y="189.00" text-anchor="end">29.50</text>
<text x="556.30" y="189.00" text-anchor="end">98.33</text>
<text x="598.30" y="189.00" text-anchor="end">60.00</text>
<text x="641.50" y="189.00" text-anchor="end">43.56</text>
<text x="663.30" y="189.00" text-anchor="end">72.60</text>
<text x="705.20" y="189.00" text-anchor="end">94.00</text>
<text x="813.30" y="189.00" text-anchor="end">100.00</text>
<text x="985.00" y="189.00" text-anchor="end">0.00</text>
<text x="384.20" y="198.00" text-anchor="end">$408</text>
<text x="426.50" y="198.00" text-anchor="end">$395</text>
<text x="448.95" y="198.00" text-anchor="end">96.85</text>
<text x="491.20" y="198.00" text-anchor="end">$1,222</text>
<text x="533.40" y="198.00" text-anchor="end">$103</text>
<text x="556.30" y="198.00" text-anchor="end">8.39</text>
<text x="598.30" y="198.00" text-anchor="end">$1,104</text>
<text x="641.50" y="198.00" text-anchor="end">$100</text>
<text x="663.30" y="198.00" text-anchor="end">9.04</text>
<text x="705.20" y="198.00" text-anchor="end">$2,130</text>
<text x="748.40" y="198.00" text-anchor="end">$0</text>
<text x="771.70" y="198.00" text-anchor="end">0.00</text>
<text x="813.30" y="198.00" text-anchor="end">$79</text>
<text x="856.50" y="198.00" text-anchor="end">$0</text>
<text x="877.95" y="198.00" text-anchor="end">0.00</text>
<text x="920.10" y="198.00" text-anchor="end">$4,943</text>
<text x="963.40" y="198.00" text-anchor="end">$598</text>
<text x="985.00" y="198.00" text-anchor="end">12.09</text>
<text x="21.00" y="205.00" text-anchor="end">4</text>
<text x="21.60" y="205.00">Manejar 15 Humedales Mediante El Desarrollo De Acciones De Administración.</text>
<text x="284.10" y="205.00" text-anchor="middle">Tipo de anualización</text>
<text x="284.10" y="212.00" text-anchor="middle">(*) Constante</text>
<text x="316.00" y="205.00">Magnitud</text>
<text x="316.00" y="214.00">Recursos</text>
<text x="384.20" y="205.00" text-anchor="end">15.00</text>
<text x="426.50" y="205.00" text-anchor="end">15.00</text>
<text x="448.95" y="205.00" text-anchor="end">100.00</text>
<text x="491.20" y="205.00" text-anchor="end">15.00</text>
<text x="533.40" y="205.00" text-anchor="end">15.00</text>
<text x="556.30" y="205.00" text-anchor="end">100.00</text>
<text x="598.30" y="205.00" text-anchor="end">15.00</text>
<text x="641.50" y="205.00" text-anchor="end">15.00</text>
<text x="663.30" y="205.00" text-anchor="end">100.00</text>
<text x="705.20" y="205.00" text-anchor="end">15.00</text>
<text x="813.30" y="205.00" text-anchor="end">15.00</text>
<text x="985.00" y="205.00" text-anchor="end">0.00</text>
<text x="384.20" y="214.00" text-anchor="end">$1,071</text>
<text x="426.50" y="214.00" text-anchor="end">$1,024</text>
<text x="448.95" y="214.00" text-anchor="end">95.64</text>
<text x="491.20" y="214.00" text-anchor="end">$3,554</text>
<text x="533.40" y="214.00" text-anchor="end">$3,429</text>
<text x="556.30" y="214.00" text-anchor="end">96.47</text>
<text x="598.30" y="214.00" text-anchor="end">$5,062</text>
<text x="641.50" y="214.00" text-anchor="end">$4,194</text>
<text x="663.30" y="214.00" text-anchor="end">82.86</text>
<text x="705.20" y="214.00" text-anchor="end">$4,435</text>
<text x="748.40" y="214.00" text-anchor="end">$0</text>
<text x="771.70" y="214.00" text-anchor="end">0.00</text>
<text x="813.30" y="214.00" text-anchor="end">$2,185</text>
<text x="856.50" y="214.00" text-anchor="end">$0</text>
<text x="877.95" y="214.00" text-anchor="end">0.00</text>
<text x="920.10" y="214.00" text-anchor="end">$16,307</text>
<text x="963.40" y="214.00" text-anchor="end">$8,647</text>
<text x="985.00" y="214.00" text-anchor="end">53.02</text>
<text x="21.00" y="222.00" text-anchor="end">5</text>
<text x="21.60" y="222.00">Habilitar 1 Espacio Público De Infraestructura Para El Disfrute Ciudadano Y Gestionar</text>
<text x="21.60" y="229.00">En Otras Áreas De Interés Ambiental.</text>
<text x="284.10" y="222.00" text-anchor="middle">Tipo de anualización</text>
<text x="284.10" y="229.00" text-anchor="middle">(*) Creciente</text>
<text x="316.00" y="222.00">Magnitud</text>
<text x="316.00" y="230.00">Recursos</text>
<text x="384.20" y="222.00" text-anchor="end">0.20</text>
<text x="426.50" y="222.00" text-anchor="end">0.20</text>
<text x="448.95" y="222.00" text-anchor="end">100.00</text>
<text x="491.20" y="222.00" text-anchor="end">0.90</text>
<text x="533.40" y="222.00" text-anchor="end">0.90</text>
<text x="556.30" y="222.00" text-anchor="end">100.00</text>
<text x="598.30" y="222.00" text-anchor="end">0.90</text>
<text x="641.50" y="222.00" text-anchor="end">0.90</text>
<text x="663.30" y="222.00" text-anchor="end">100.00</text>
<text x="705.20" y="222.00" text-anchor="end">1.00</text>
<text x="813.30" y="222.00" text-anchor="end">0.00</text>
<text x="877.95" y="222.00" text-anchor="end">0.00</text>
<text x="985.00" y="222.00" text-anchor="end">0.00</text>
<text x="384.20" y="230.00" text-anchor="end">$394</text>
<text x="426.50" y="230.00" text-anchor="end">$393</text>
<text x="448.95" y="230.00" text-anchor="end">99.81</text>
<text x="491.20" y="230.00" text-anchor="end">$4,332</text>
<text x="533.40" y="230.00" text-anchor="end">$65</text>
<text x="556.30" y="230.00" text-anchor="end">1.50</text>
<text x="598.30" y="230.00" text-anchor="end">$10,750</text>
<text x="641.50" y="230.00" text-anchor="end">$4,779</text>
<text x="663.30" y="230.00" text-anchor="end">44.45</text>
<text x="705.20" y="230.00" text-anchor="end">$798</text>
<text x="748.40" y="230.00" text-anchor="end">$0</text>
<text x="771.70" y="230.00" text-anchor="end">0.00</text>
<text x="813.30" y="230.00" text-anchor="end">$0</text>
<text x="856.50" y="230.00" text-anchor="end">$0</text>
<text x="877.95" y="230.00" text-anchor="end">0.00</text>
<text x="920.10" y="230.00" text-anchor="end">$16,273</text>
<text x="963.40" y="230.00" text-anchor="end">$5,237</text>
<text x="985.00" y="230.00" text-anchor="end">32.18</text>
<text x="21.00" y="238.00" text-anchor="end">6</text>
<text x="21.60" y="238.00">Adquirir 60 Hectáreas En Áreas Protegidas Y Áreas De Interés Ambiental</text>
<text x="284.10" y="238.00" text-anchor="middle">Tipo de anualización</text>
<text x="284.10" y="245.00" text-anchor="middle">Suma</text>
<text x="316.00" y="238.00">Magnitud</text>
<text x="316.00" y="247.00">Recursos</text>
<text x="384.20" y="238.00" text-anchor="end">4.00</text>
<text x="426.50" y="238.00" text-anchor="end">4.28</text>
<text x="448.95" y="238.00" text-anchor="end">107.00</text>
<text x="491.20" y="238.00" text-anchor="end">15.00</text>
<text x="533.40" y="238.00" text-anchor="end">3.40</text>
<text x="556.30" y="238.00" text-anchor="end">22.67</text>
<text x="598.30" y="238.00" text-anchor="end">21.60</text>
<text x="641.50" y="238.00" text-anchor="end">0.00</text>
<text x="663.30" y="238.00" text-anchor="end">0.00</text>
<text x="705.20" y="238.00" text-anchor="end">20.00</text>
<text x="813.30" y="238.00" text-anchor="end">10.72</text>
<text x="920.10" y="238.00" text-anchor="end">60.00</text>
<text x="963.40" y="238.00" text-anchor="end">7.68</text>
<text x="985.00" y="238.00" text-anchor="end">12.80</text>
<text x="384.20" y="247.00" text-anchor="end">$1,685</text>
<text x="426.50" y="247.00" text-anchor="end">$848</text>
<text x="448.95" y="247.00" text-anchor="end">50.36</text>
<text x="491.20" y="247.00" text-anchor="end">$1,527</text>
<text x="533.40" y="247.00" text-anchor="end">$294</text>
<text x="556.30" y="247.00" text-anchor="end">19.24</text>
<text x="598.30" y="247.00" text-anchor="end">$1,038</text>
<text x="641.50" y="247.00" text-anchor="end">$264</text>
<text x="663.30" y="247.00" text-anchor="end">25.43</text>
<text x="705.20" y="247.00" text-anchor="end">$1,040</text>
<text x="748.40" y="247.00" text-anchor="end">$0</text>
<text x="771.70" y="247.00" text-anchor="end">0.00</text>
<text x="813.30" y="247.00" text-anchor="end">$1,003</text>
<text x="856.50" y="247.00" text-anchor="end">$0</text>
<text x="877.95" y="247.00" text-anchor="end">0.00</text>
<text x="920.10" y="247.00" text-anchor="end">$6,293</text>
<text x="963.40" y="247.00" text-anchor="end">$1,406</text>
<text x="985.00" y="247.00" text-anchor="end">22.35</text>
<text x="21.00" y="255.00" text-anchor="end">7</text>
<text x="21.60" y="255.00">Administrar Y Manejar 800 Hectáreas De Parques Ecológicos Distritales De Montaña</text>
<text x="21.60" y="261.00">Y Áreas De Interés Ambiental.</text>
<text x="284.10" y="255.00" text-anchor="middle">Tipo de anualización</text>
<text x="284.10" y="262.00" text-anchor="middle">(*) Creciente</text>
<text x="316.00" y="255.00">Magnitud</text>
<text x="316.00" y="264.00">Recursos</text>
<text x="384.20" y="255.00" text-anchor="end">342.00</text>
<text x="426.50" y="255.00" text-anchor="end">342.00</text>
<text x="448.95" y="255.00" text-anchor="end">100.00</text>
<text x="491.20" y="255.00" text-anchor="end">475.00</text>
<text x="533.40" y="255.00" text-anchor="end">315.00</text>
<text x="556.30" y="255.00" text-anchor="end">66.32</text>
<text x="598.30" y="255.00" text-anchor="end">408.00</text>
<text x="641.50" y="255.00" text-anchor="end">318.00</text>
<text x="663.30" y="255.00" text-anchor="end">77.94</text>
<text x="705.20" y="255.00" text-anchor="end">775.00</text>
<text x="813.30" y="255.00" text-anchor="end">800.00</text>
<text x="985.00" y="255.00" text-anchor="end">0.00</text>
<text x="384.20" y="264.00" text-anchor="end">$1,294</text>
<text x="426.50" y="264.00" text-anchor="end">$1,221</text>
<text x="448.95" y="264.00" text-anchor="end">94.35</text>
<text x="491.20" y="264.00" text-anchor="end">$6,774</text>
<text x="533.40" y="264.00" text-anchor="end">$4,028</text>
<text x="556.30" y="264.00" text-anchor="end">59.47</text>
<text x="598.30" y="264.00" text-anchor="end">$9,282</text>
<text x="641.50" y="264.00" text-anchor="end">$4,401</text>
<text x="663.30" y="264.00" text-anchor="end">47.41</text>
<text x="705.20" y="264.00" text-anchor="end">$5,924</text>
<text x="748.40" y="264.00" text-anchor="end">$0</text>
<text x="771.70" y="264.00" text-anchor="end">0.00</text>
<text x="813.30" y="264.00" text-anchor="end">$3,114</text>
<text x="856.50" y="264.00" text-anchor="end">$0</text>
<text x="877.95" y="264.00" text-anchor="end">0.00</text>
<text x="920.10" y="264.00" text-anchor="end">$26,388</text>
<text x="963.40" y="264.00" text-anchor="end">$9,650</text>
<text x="985.00" y="264.00" text-anchor="end">36.57</text>
<text x="21.00" y="271.00" text-anchor="end">8</text>
<text x="21.60" y="271.00">Recuperar Y Viabilizar 115 Hectáreas De Suelo De Protección Por Riesgo Como Uso</text>
<text x="21.60" y="278.00">De Espacio Público Para La Ciudad.</text>
<text x="284.10" y="271.00" text-anchor="middle">Tipo de anualización</text>
<text x="284.10" y="278.00" text-anchor="middle">(*) Creciente</text>
<text x="316.00" y="271.00">Magnitud</text>
<text x="316.00" y="280.00">Recursos</text>
<text x="384.20" y="271.00" text-anchor="end">10.00</text>
<text x="426.50" y="271.00" text-anchor="end">1.00</text>
<text x="448.95" y="271.00" text-anchor="end">10.00</text>
<text x="491.20" y="271.00" text-anchor="end">33.60</text>
<text x="533.40" y="271.00" text-anchor="end">27.60</text>
<text x="556.30" y="271.00" text-anchor="end">82.14</text>
<text x="598.30" y="271.00" text-anchor="end">40.60</text>
<text x="641.50" y="271.00" text-anchor="end">33.60</text>
<text x="663.30" y="271.00" text-anchor="end">82.76</text>
<text x="705.20" y="271.00" text-anchor="end">100.00</text>
<text x="813.30" y="271.00" text-anchor="end">115.00</text>
<text x="985.00" y="271.00" text-anchor="end">0.00</text>
<text x="384.20" y="280.00" text-anchor="end">$556</text>
<text x="426.50" y="280.00" text-anchor="end">$388</text>
<text x="448.95" y="280.00" text-anchor="end">69.71</text>
<text x="491.20" y="280.00" text-anchor="end">$393</text>
<text x="533.40" y="280.00" text-anchor="end">$365</text>
<text x="556.30" y="280.00" text-anchor="end">92.85</text>
<text x="598.30" y="280.00" text-anchor="end">$301</text>
<text x="641.50" y="280.00" text-anchor="end">$77</text>
<text x="663.30" y="280.00" text-anchor="end">25.43</text>
<text x="705.20" y="280.00" text-anchor="end">$1,328</text>
<text x="748.40" y="280.00" text-anchor="end">$0</text>
<text x="771.70" y="280.00" text-anchor="end">0.00</text>
<text x="813.30" y="280.00" text-anchor="end">$2,817</text>
<text x="856.50" y="280.00" text-anchor="end">$0</text>
<text x="877.95" y="280.00" text-anchor="end">0.00</text>
<text x="920.10" y="280.00" text-anchor="end">$5,395</text>
<text x="963.40" y="280.00" text-anchor="end">$829</text>
<text x="985.00" y="280.00" text-anchor="end">15.37</text>
<text x="21.00" y="287.00" text-anchor="end">9</text>
<text x="21.60" y="287.00">Recuperar, Rehabilitar O Restaurar 200 Hectáreas Nuevas  En Cerros Orientales,</text>
<text x="21.60" y="294.00">Ríos Y Quebradas, Humedales, Bosques, Páramos O Zonas De Alto Riesgo No</text>
<text x="21.60" y="301.00">Mitigables Que Aportan A La Conectividad Ecológica De La Región</text>
<text x="284.10" y="287.00" text-anchor="middle">Tipo de anualización</text>
<text x="284.10" y="294.00" text-anchor="middle">Suma</text>
<text x="316.00" y="287.00">Magnitud</text>
<text x="316.00" y="296.00">Recursos</text>
<text x="384.20" y="287.00" text-anchor="end">10.00</text>
<text x="426.50" y="287.00" text-anchor="end">6.33</text>
<text x="448.95" y="287.00" text-anchor="end">63.30</text>
<text x="491.20" y="287.00" text-anchor="end">73.67</text>
<text x="533.40" y="287.00" text-anchor="end">11.80</text>
<text x="556.30" y="287.00" text-anchor="end">16.02</text>
<text x="598.30" y="287.00" text-anchor="end">121.87</text>
<text x="641.50" y="287.00" text-anchor="end">19.90</text>
<text x="663.30" y="287.00" text-anchor="end">16.33</text>
<text x="705.20" y="287.00" text-anchor="end">50.00</text>
<text x="813.30" y="287.00" text-anchor="end">10.00</text>
<text x="920.10" y="287.00" text-anchor="end">200.00</text>
<text x="963.40" y="287.00" text-anchor="end">38.03</text>
<text x="985.00" y="287.00" text-anchor="end">19.02</text>
<text x="384.20" y="296.00" text-anchor="end">$1,140</text>
<text x="426.50" y="296.00" text-anchor="end">$1,138</text>
<text x="448.95" y="296.00" text-anchor="end">99.86</text>
<text x="491.20" y="296.00" text-anchor="end">$1,779</text>
<text x="533.40" y="296.00" text-anchor="end">$1,764</text>
<text x="556.30" y="296.00" text-anchor="end">99.16</text>
<text x="598.30" y="296.00" text-anchor="end">$1,888</text>
<text x="641.50" y="296.00" text-anchor="end">$132</text>
<text x="663.30" y="296.00" text-anchor="end">6.98</text>
<text x="705.20" y="296.00" text-anchor="end">$2,301</text>
<text x="748.40" y="296.00" text-anchor="end">$0</text>
<text x="771.70" y="296.00" text-anchor="end">0.00</text>
<text x="813.30" y="296.00" text-anchor="end">$999</text>
<text x="856.50" y="296.00" text-anchor="end">$0</text>
<text x="877.95" y="296.00" text-anchor="end">0.00</text>
<text x="920.10" y="296.00" text-anchor="end">$8,107</text>
<text x="963.40" y="296.00" text-anchor="end">$3,034</text>
<text x="985.00" y="296.00" text-anchor="end">37.42</text>
<text x="21.00" y="308.00" text-anchor="end">10</text>
<text x="21.60" y="308.00">Ejecutar El 100 % El Plan De Mantenimiento Y Sostenibilidad Ecológica En 400 Ha</text>
<text x="21.60" y="315.00">Intervenidas Con Procesos De Restauración.</text>
<text x="284.10" y="308.00" text-anchor="middle">Tipo de anualización</text>
<text x="284.10" y="315.00" text-anchor="middle">Suma</text>
<text x="316.00" y="308.00">Magnitud</text>
<text x="316.00" y="317.00">Recursos</text>
<text x="384.20" y="308.00" text-anchor="end">5.00</text>
<text x="426.50" y="308.00" text-anchor="end">3.10</text>
<text x="448.95" y="308.00" text-anchor="end">62.00</text>
<text x="491.20" y="308.00" text-anchor="end">21.90</text>
<text x="533.40" y="308.00" text-anchor="end">14.65</text>
<text x="556.30" y="308.00" text-anchor="end">66.89</text>
<text x="598.30" y="308.00" text-anchor="end">45.85</text>
<text x="641.50" y="308.00" text-anchor="end">13.57</text>
<text x="663.30" y="308.00" text-anchor="end">29.60</text>
<text x="705.20" y="308.00" text-anchor="end">35.00</text>
<text x="813.30" y="308.00" text-anchor="end">1.40</text>
<text x="920.10" y="308.00" text-anchor="end">100.00</text>
<text x="963.40" y="308.00" text-anchor="end">31.32</text>
<text x="985.00" y="308.00" text-anchor="end">31.32</text>
<text x="384.20" y="317.00" text-anchor="end">$278</text>
<text x="426.50" y="317.00" text-anchor="end">$277</text>
<text x="448.95" y="317.00" text-anchor="end">99.74</text>
<text x="491.20" y="317.00" text-anchor="end">$971</text>
<text x="533.40" y="317.00" text-anchor="end">$935</text>
<text x="556.30" y="317.00" text-anchor="end">96.32</text>
<text x="598.30" y="317.00" text-anchor="end">$1,504</text>
<text x="641.50" y="317.00" text-anchor="end">$198</text>
<text x="663.30" y="317.00" text-anchor="end">13.16</text>
<text x="705.20" y="317.00" text-anchor="end">$1,913</text>
<text x="748.40" y="317.00" text-anchor="end">$0</text>
<text x="771.70" y="317.00" text-anchor="end">0.00</text>
<text x="813.30" y="317.00" text-anchor="end">$620</text>
<text x="856.50" y="317.00" text-anchor="end">$0</text>
<text x="877.95" y="317.00" text-anchor="end">0.00</text>
<text x="920.10" y="317.00" text-anchor="end">$5,285</text>
<text x="963.40" y="317.00" text-anchor="end">$1,410</text>
<text x="985.00" y="317.00" text-anchor="end">26.68</text>
<text x="21.00" y="325.00" text-anchor="end">11</text>
<text x="21.60" y="325.00">Implementar 4 Programas De Monitoreo Asociados A Elementos De La Estructura</text>
<text x="21.60" y="331.00">Ecológica Principal .</text>
<text x="284.10" y="325.00" text-anchor="middle">Tipo de anualización</text>
<text x="284.10" y="331.00" text-anchor="middle">(*) Creciente</text>
<text x="316.00" y="325.00">Magnitud</text>
<text x="316.00" y="333.00">Recursos</text>
<text x="384.20" y="325.00" text-anchor="end">0.50</text>
<text x="426.50" y="325.00" text-anchor="end">0.50</text>
<text x="448.95" y="325.00" text-anchor="end">100.00</text>
<text x="491.20" y="325.00" text-anchor="end">1.00</text>
<text x="533.40" y="325.00" text-anchor="end">0.90</text>
<text x="556.30" y="325.00" text-anchor="end">90.00</text>
<text x="598.30" y="325.00" text-anchor="end">1.90</text>
<text x="641.50" y="325.00" text-anchor="end">1.20</text>
<text x="663.30" y="325.00" text-anchor="end">63.16</text>
<text x="705.20" y="325.00" text-anchor="end">3.90</text>
<text x="813.30" y="325.00" text-anchor="end">4.00</text>
<text x="985.00" y="325.00" text-anchor="end">0.00</text>
<text x="384.20" y="333.00" text-anchor="end">$316</text>
<text x="426.50" y="333.00" text-anchor="end">$303</text>
<text x="448.95" y="333.00" text-anchor="end">96.02</text>
<text x="491.20" y="333.00" text-anchor="end">$582</text>
<text x="533.40" y="333.00" text-anchor="end">$320</text>
<text x="556.30" y="333.00" text-anchor="end">54.88</text>
<text x="598.30" y="333.00" text-anchor="end">$455</text>
<text x="641.50" y="333.00" text-anchor="end">$186</text>
<text x="663.30" y="333.00" text-anchor="end">40.96</text>
<text x="705.20" y="333.00" text-anchor="end">$889</text>
<text x="748.40" y="333.00" text-anchor="end">$0</text>
<text x="771.70" y="333.00" text-anchor="end">0.00</text>
<text x="813.30" y="333.00" text-anchor="end">$592</text>
<text x="856.50" y="333.00" text-anchor="end">$0</text>
<text x="877.95" y="333.00" text-anchor="end">0.00</text>
<text x="920.10" y="333.00" text-anchor="end">$2,834</text>
<text x="963.40" y="333.00" text-anchor="end">$809</text>
<text x="985.00" y="333.00" text-anchor="end">28.54</text>
<text x="21.00" y="341.00" text-anchor="end">12</text>
<text x="21.60" y="341.00">Aumentar A 55 Hectáreas Las Áreas Con Procesos De Restauración Ecológica</text>
<text x="21.60" y="348.00">Participativa O Conservación Y/O Mantenimiento En La Ruralidad De Bogotana.</text>
<text x="137.55" y="356.00" text-anchor="middle">Estado: Finalizada - No continua</text>
<text x="284.10" y="341.00" text-anchor="middle">Tipo de anualización</text>
<text x="284.10" y="348.00" text-anchor="middle">(*) Creciente</text>
<text x="316.00" y="341.00">Magnitud</text>
<text x="316.00" y="350.00">Recursos</text>
<text x="384.20" y="341.00" text-anchor="end">55.00</text>
<text x="426.50" y="341.00" text-anchor="end">62.33</text>
<text x="448.95" y="341.00" text-anchor="end">113.33</text>
<text x="491.20" y="341.00" text-anchor="end">0.00</text>
<text x="556.30" y="341.00" text-anchor="end">0.00</text>
<text x="598.30" y="341.00" text-anchor="end">0.00</text>
<text x="663.30" y="341.00" text-anchor="end">0.00</text>
<text x="705.20" y="341.00" text-anchor="end">0.00</text>
<text x="771.70" y="341.00" text-anchor="end">0.00</text>
<text x="813.30" y="341.00" text-anchor="end">0.00</text>
<text x="877.95" y="341.00" text-anchor="end">0.00</text>
<text x="985.00" y="341.00" text-anchor="end">0.00</text>
<text x="384.20" y="350.00" text-anchor="end">$244</text>
<text x="426.50" y="350.00" text-anchor="end">$244</text>
<text x="448.95" y="350.00" text-anchor="end">100.00</text>
<text x="491.20" y="350.00" text-anchor="end">$0</text>
<text x="533.40" y="350.00" text-anchor="end">$0</text>
<text x="556.30" y="350.00" text-anchor="end">0.00</text>
<text x="598.30" y="350.00" text-anchor="end">$0</text>
<text x="641.50" y="350.00" text-anchor="end">$0</text>
<text x="663.30" y="350.00" text-anchor="end">0.00</text>
<text x="705.20" y="350.00" text-anchor="end">$0</text>
<text x="748.40" y="350.00" text-anchor="end">$0</text>
<text x="771.70" y="350.00" text-anchor="end">0.00</text>
<text x="813.30" y="350.00" text-anchor="end">$0</text>
<text x="856.50" y="350.00" text-anchor="end">$0</text>
<text x="877.95" y="350.00" text-anchor="end">0.00</text>
<text x="920.10" y="350.00" text-anchor="end">$244</text>
<text x="963.40" y="350.00" text-anchor="end">$244</text>
<text x="985.00" y="350.00" text-anchor="end">100.00</text>
<text x="21.00" y="365.00" text-anchor="end">13</text>
<text x="21.60" y="365.00">Implementar En 56 Predios Acciones De Buenas Prácticas Ambientales En Sistemas</text>
<text x="21.60" y="372.00">De Producción En Sistemas De Producción Agropecuaria.</text>
<text x="137.55" y="380.00" text-anchor="middle">Estado: Finalizada - No continua</text>
<text x="284.10" y="365.00" text-anchor="middle">Tipo de anualización</text>
<text x="284.10" y="372.00" text-anchor="middle">Suma</text>
<text x="316.00" y="365.00">Magnitud</text>
<text x="316.00" y="374.00">Recursos</text>
<text x="384.20" y="365.00" text-anchor="end">56.00</text>
<text x="426.50" y="365.00" text-anchor="end">56.00</text>
<text x="448.95" y="365.00" text-anchor="end">100.00</text>
<text x="491.20" y="365.00" text-anchor="end">0.00</text>
<text x="556.30" y="365.00" text-anchor="end">0.00</text>
<text x="598.30" y="365.00" text-anchor="end">0.00</text>
<text x="663.30" y="365.00" text-anchor="end">0.00</text>
<text x="705.20" y="365.00" text-anchor="end">0.00</text>
<text x="771.70" y="365.00" text-anchor="end">0.00</text>
<text x="813.30" y="365.00" text-anchor="end">0.00</text>
<text x="877.95" y="365.00" text-anchor="end">0.00</text>
<text x="920.10" y="365.00" text-anchor="end">56.00</text>
<text x="963.40" y="365.00" text-anchor="end">56.00</text>
<text x="985.00" y="365.00" text-anchor="end">100.00</text>
<text x="384.20" y="374.00" text-anchor="end">$509</text>
<text x="426.50" y="374.00" text-anchor="end">$496</text>
<text x="448.95" y="374.00" text-anchor="end">97.44</text>
<text x="491.20" y="374.00" text-anchor="end">$0</text>
<text x="533.40" y="374.00" text-anchor="end">$0</text>
<text x="556.30" y="374.00" text-anchor="end">0.00</text>
<text x="598.30" y="374.00" text-anchor="end">$0</text>
<text x="641.50" y="374.00" text-anchor="end">$0</text>
<text x="663.30" y="374.00" text-anchor="end">0.00</text>
<text x="705.20" y="374.00" text-anchor="end">$0</text>
<text x="748.40" y="374.00" text-anchor="end">$0</text>
<text x="771.70" y="374.00" text-anchor="end">0.00</text>
<text x="813.30" y="374.00" text-anchor="end">$0</text>
<text x="856.50" y="374.00" text-anchor="end">$0</text>
<text x="877.95" y="374.00" text-anchor="end">0.00</text>
<text x="920.10" y="374.00" text-anchor="end">$509</text>
<text x="963.40" y="374.00" text-anchor="end">$496</text>
<text x="985.00" y="374.00" text-anchor="end">97.44</text>
<text x="21.00" y="390.00" text-anchor="end">14</text>
<text x="21.60" y="390.00">Implementar 2 Proyectos De Adaptación Al Cambio Climático Basado En Ecosistemas</text>
<text x="284.10" y="390.00" text-anchor="middle">Tipo de anualización</text>
<text x="284.10" y="397.00" text-anchor="middle">(*) Creciente</text>
<text x="316.00" y="390.00">Magnitud</text>
<text x="316.00" y="399.00">Recursos</text>
<text x="384.20" y="390.00" text-anchor="end">0.50</text>
<text x="426.50" y="390.00" text-anchor="end">0.50</text>
<text x="448.95" y="390.00" text-anchor="end">100.00</text>
<text x="491.20" y="390.00" text-anchor="end">0.73</text>
<text x="533.40" y="390.00" text-anchor="end">0.85</text>
<text x="556.30" y="390.00" text-anchor="end">116.44</text>
<text x="598.30" y="390.00" text-anchor="end">1.50</text>
<text x="641.50" y="390.00" text-anchor="end">1.28</text>
<text x="663.30" y="390.00" text-anchor="end">85.33</text>
<text x="705.20" y="390.00" text-anchor="end">1.70</text>
<text x="813.30" y="390.00" text-anchor="end">2.00</text>
<text x="985.00" y="390.00" text-anchor="end">0.00</text>
<text x="384.20" y="399.00" text-anchor="end">$52</text>
<text x="426.50" y="399.00" text-anchor="end">$52</text>
<text x="448.95" y="399.00" text-anchor="end">100.00</text>
<text x="491.20" y="399.00" text-anchor="end">$512</text>
<text x="533.40" y="399.00" text-anchor="end">$512</text>
<text x="556.30" y="399.00" text-anchor="end">99.89</text>
<text x="598.30" y="399.00" text-anchor="end">$240</text>
<text x="641.50" y="399.00" text-anchor="end">$37</text>
<text x="663.30" y="399.00" text-anchor="end">15.50</text>
<text x="705.20" y="399.00" text-anchor="end">$449</text>
<text x="748.40" y="399.00" text-anchor="end">$0</text>
<text x="771.70" y="399.00" text-anchor="end">0.00</text>
<text x="813.30" y="399.00" text-anchor="end">$455</text>
<text x="856.50" y="399.00" text-anchor="end">$0</text>
<text x="877.95" y="399.00" text-anchor="end">0.00</text>
<text x="920.10" y="399.00" text-anchor="end">$1,710</text>
<text x="963.40" y="399.00" text-anchor="end">$602</text>
<text x="985.00" y="399.00" text-anchor="end">35.18</text>
<text x="21.00" y="406.00" text-anchor="end">15</text>
<text x="21.60" y="406.00">Ejecutar 4 Instrumentos Institucionales Con Enfoque De Adaptación Al Cambio</text>
<text x="21.60" y="413.00">Climático</text>
<text x="284.10" y="406.00" text-anchor="middle">Tipo de anualización</text>
<text x="284.10" y="413.00" text-anchor="middle">(*) Constante</text>
<text x="316.00" y="406.00">Magnitud</text>
<text x="316.00" y="415.00">Recursos</text>
<text x="384.20" y="406.00" text-anchor="end">4.00</text>
<text x="426.50" y="406.00" text-anchor="end">4.00</text>
<text x="448.95" y="406.00" text-anchor="end">100.00</text>
<text x="491.20" y="406.00" text-anchor="end">4.00</text>
<text x="533.40" y="406.00" text-anchor="end">4.00</text>
<text x="556.30" y="406.00" text-anchor="end">100.00</text>
<text x="598.30" y="406.00" text-anchor="end">4.00</text>
<text x="641.50" y="406.00" text-anchor="end">4.00</text>
<text x="663.30" y="406.00" text-anchor="end">100.00</text>
<text x="705.20" y="406.00" text-anchor="end">4.00</text>
<text x="813.30" y="406.00" text-anchor="end">4.00</text>
<text x="985.00" y="406.00" text-anchor="end">0.00</text>
<text x="384.20" y="415.00" text-anchor="end">$382</text>
<text x="426.50" y="415.00" text-anchor="end">$377</text>
<text x="448.95" y="415.00" text-anchor="end">98.69</text>
<text x="491.20" y="415.00" text-anchor="end">$560</text>
<text x="533.40" y="415.00" text-anchor="end">$521</text>
<text x="556.30" y="415.00" text-anchor="end">93.06</text>
<text x="598.30" y="415.00" text-anchor="end">$404</text>
<text x="641.50" y="415.00" text-anchor="end">$316</text>
<text x="663.30" y="415.00" text-anchor="end">78.14</text>
<text x="705.20" y="415.00" text-anchor="end">$597</text>
<text x="748.40" y="415.00" text-anchor="end">$0</text>
<text x="771.70" y="415.00" text-anchor="end">0.00</text>
<text x="813.30" y="415.00" text-anchor="end">$475</text>
<text x="856.50" y="415.00" text-anchor="end">$0</text>
<text x="877.95" y="415.00" text-anchor="end">0.00</text>
<text x="920.10" y="415.00" text-anchor="end">$2,419</text>
<text x="963.40" y="415.00" text-anchor="end">$1,214</text>
<text x="985.00" y="415.00" text-anchor="end">50.21</text>
<text x="21.00" y="423.00" text-anchor="end">16</text>
<text x="21.60" y="423.00">Pagar 100 % Compromisos De Vigencias Anteriores Fenecidas</text>
<text x="284.10" y="423.00" text-anchor="middle">Tipo de anualización</text>
<text x="284.10" y="430.00" text-anchor="middle">(*) Constante</text>
<text x="316.00" y="423.00">Magnitud</text>
<text x="316.00" y="431.00">Recursos</text>
<text x="384.20" y="423.00" text-anchor="end">0.00</text>
<text x="448.95" y="423.00" text-anchor="end">0.00</text>
<text x="491.20" y="423.00" text-anchor="end">0.00</text>
<text x="556.30" y="423.00" text-anchor="end">0.00</text>
<text x="598.30" y="423.00" text-anchor="end">0.00</text>
<text x="663.30" y="423.00" text-anchor="end">0.00</text>
<text x="705.20" y="423.00" text-anchor="end">100.00</text>
<text x="813.30" y="423.00" text-anchor="end">100.00</text>
<text x="985.00" y="423.00" text-anchor="end">0.00</text>
<text x="384.20" y="431.00" text-anchor="end">$0</text>
<text x="426.50" y="431.00" text-anchor="end">$0</text>
<text x="448.95" y="431.00" text-anchor="end">0.00</text>
<text x="491.20" y="431.00" text-anchor="end">$0</text>
<text x="533.40" y="431.00" text-anchor="end">$0</text>
<text x="556.30" y="431.00" text-anchor="end">0.00</text>
<text x="598.30" y="431.00" text-anchor="end">$0</text>
<text x="641.50" y="431.00" text-anchor="end">$0</text>
<text x="663.30" y="431.00" text-anchor="end">0.00</text>
<text x="705.20" y="431.00" text-anchor="end">$550</text>
<text x="748.40" y="431.00" text-anchor="end">$0</text>
<text x="771.70" y="431.00" text-anchor="end">0.00</text>
<text x="813.30" y="431.00" text-anchor="end">$0</text>
<text x="856.50" y="431.00" text-anchor="end">$0</text>
<text x="877.95" y="431.00" text-anchor="end">0.00</text>
<text x="920.10" y="431.00" text-anchor="end">$550</text>
<text x="963.40" y="431.00" text-anchor="end">$0</text>
<text x="985.00" y="431.00" text-anchor="end">0.00</text>
<text x="12.50" y="439.00">39</text>
<text x="22.75" y="439.00">Ambiente sano para la equidad y disfrute del ciudadano</text>
<text x="384.20" y="439.00" text-anchor="end">$38,360</text>
<text x="426.50" y="439.00" text-anchor="end">$18,850</text>
<text x="448.95" y="439.00" text-anchor="end">49.14</text>
<text x="491.20" y="439.00" text-anchor="end">$61,587</text>
<text x="533.40" y="439.00" text-anchor="end">$58,463</text>
<text x="556.30" y="439.00" text-anchor="end">94.93</text>
<text x="598.30" y="439.00" text-anchor="end">$39,487</text>
<text x="641.50" y="439.00" text-anchor="end">$26,784</text>
<text x="663.30" y="439.00" text-anchor="end">67.83</text>
<text x="705.20" y="439.00" text-anchor="end">$58,889</text>
<text x="748.40" y="439.00" text-anchor="end">$0</text>
<text x="771.70" y="439.00" text-anchor="end">0.00</text>
<text x="813.30" y="439.00" text-anchor="end">$28,076</text>
<text x="856.50" y="439.00" text-anchor="end">$0</text>
<text x="877.95" y="439.00" text-anchor="end">0.00</text>
<text x="920.10" y="439.00" text-anchor="end">$226,400</text>
<text x="963.40" y="439.00" text-anchor="end">$104,097</text>
<text x="985.00" y="439.00" text-anchor="end">45.98</text>
<text x="13.10" y="447.00">979</text>
<text x="27.75" y="447.00">Control a los factores de deterioro de los recursos naturales en la zona urbana del Distrito Capital</text>
<text x="384.20" y="449.00" text-anchor="end">$15,676</text>
<text x="426.50" y="448.00" text-anchor="end">$13,875</text>
<text x="448.95" y="448.00" text-anchor="end">88.51</text>
<text x="491.20" y="448.00" text-anchor="end">$17,658</text>
<text x="533.40" y="448.00" text-anchor="end">$16,615</text>
<text x="556.30" y="448.00" text-anchor="end">94.09</text>
<text x="598.30" y="448.00" text-anchor="end">$24,895</text>
<text x="641.50" y="448.00" text-anchor="end">$20,759</text>
<text x="663.30" y="448.00" text-anchor="end">83.38</text>
<text x="705.20" y="448.00" text-anchor="end">$29,507</text>
<text x="748.40" y="448.00" text-anchor="end">$0</text>
<text x="771.70" y="448.00" text-anchor="end">0.00</text>
<text x="813.30" y="448.00" text-anchor="end">$22,001</text>
<text x="856.50" y="448.00" text-anchor="end">$0</text>
<text x="877.95" y="448.00" text-anchor="end">0.00</text>
<text x="920.10" y="448.00" text-anchor="end">$109,738</text>
<text x="963.40" y="448.00" text-anchor="end">$51,248</text>
<text x="985.00" y="448.00" text-anchor="end">46.70</text>
<text x="21.00" y="456.00" text-anchor="end">1</text>
<text x="21.60" y="456.00">Atender 1846 Solicitudes De Permiso De Vertimientos En El Perímetro Urbano</text>
<text x="284.10" y="456.00" text-anchor="middle">Tipo de anualización</text>
<text x="284.10" y="462.00" text-anchor="middle">Suma</text>
<text x="316.00" y="456.00">Magnitud</text>
<text x="316.00" y="464.00">Recursos</text>
<text x="384.20" y="456.00" text-anchor="end">151.00</text>
<text x="426.50" y="456.00" text-anchor="end">98.00</text>
<text x="448.95" y="456.00" text-anchor="end">64.90</text>
<text x="491.20" y="456.00" text-anchor="end">310.00</text>
<text x="533.40" y="456.00" text-anchor="end">236.00</text>
<text x="556.30" y="456.00" text-anchor="end">76.13</text>
<text x="598.30" y="456.00" text-anchor="end">654.00</text>
<text x="641.50" y="456.00" text-anchor="end">197.00</text>
<text x="663.30" y="456.00" text-anchor="end">30.12</text>
<text x="705.20" y="456.00" text-anchor="end">730.00</text>
<text x="813.30" y="456.00" text-anchor="end">128.00</text>
<text x="920.10" y="456.00" text-anchor="end">1,846.00</text>
<text x="963.40" y="456.00" text-anchor="end">531.00</text>
<text x="985.00" y="456.00" text-anchor="end">28.76</text>
<text x="384.20" y="464.00" text-anchor="end">$698</text>
<text x="426.50" y="464.00" text-anchor="end">$499</text>
<text x="448.95" y="464.00" text-anchor="end">71.39</text>
<text x="491.20" y="464.00" text-anchor="end">$677</text>
<text x="533.40" y="464.00" text-anchor="end">$640</text>
<text x="556.30" y="464.00" text-anchor="end">94.60</text>
<text x="598.30" y="464.00" text-anchor="end">$904</text>
<text x="641.50" y="464.00" text-anchor="end">$808</text>
<text x="663.30" y="464.00" text-anchor="end">89.38</text>
<text x="705.20" y="464.00" text-anchor="end">$1,428</text>
<text x="748.40" y="464.00" text-anchor="end">$0</text>
<text x="771.70" y="464.00" text-anchor="end">0.00</text>
<text x="813.30" y="464.00" text-anchor="end">$1,286</text>
<text x="856.50" y="464.00" text-anchor="end">$0</text>
<text x="877.95" y="464.00" text-anchor="end">0.00</text>
<text x="920.10" y="464.00" text-anchor="end">$4,994</text>
<text x="963.40" y="464.00" text-anchor="end">$1,947</text>
<text x="985.00" y="464.00" text-anchor="end">38.99</text>
<line x1="5.50" y1="472.30" x2="991.00" y2="472.30" stroke="#1a1a1a" stroke-width="1.25"/>
<text x="5.50" y="480.30">(*) Meta proyecto de inversión con tipo de anualización diferente a suma. Se debe observar el valor programado y ejecutado de sus magnitudes en cada vigencia.</text>
<text x="5.50" y="487.80">(****) La programación y ejecución de magnitud de metas de proyecto de inversión incluye la vigencia actual y la vigencia anterior según desagregación efectuada por la entidad, mientras que los recursos corresponden únicamente a la vigencia actual.</text>
<text x="990.50" y="480.00" text-anchor="end">ULTIMA VERSION OFICIAL</text>
<text x="5.50" y="503.60" style="font-size:5.03px">SECRETARÍA DISTRITAL DE PLANEACIÓN - Subsecretaría de Planeación de la Inversión / DPSI</text>
<text x="5.50" y="511.00" style="font-size:5.03px">Sistema de Seguimiento al Plan de Desarrollo - SEGPLAN</text>
<text x="828.00" y="503.60" style="font-size:5.03px">Fecha de impresión:</text>
<text x="875.00" y="503.60" style="font-size:5.03px">19-JUN-2021 19:27</text>
<text x="994.50" y="503.60" text-anchor="end" style="font-size:5.03px">Página  1 de 6</text>
<text x="828.00" y="511.00" style="font-size:5.03px">3647757903</text>
<text x="992.50" y="511.00" text-anchor="end" style="font-size:5.03px">Reporte: sp_ejec_metas_py_entidad_bp.rdf (20130219)</text>
</svg>
</body></html>
